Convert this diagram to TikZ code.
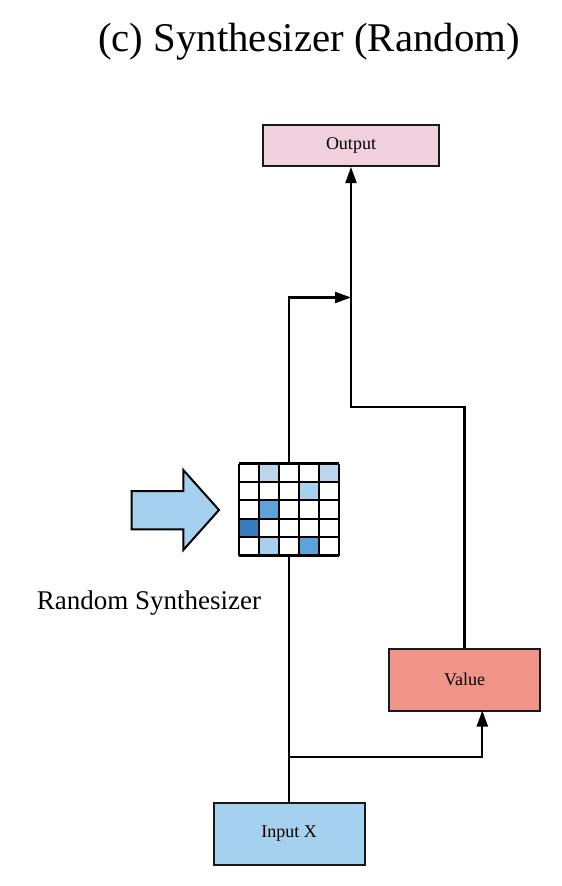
\documentclass[tikz,border=0pt]{standalone}
\usepackage{fontspec}
\setmainfont{Liberation Serif}
\usetikzlibrary{arrows.meta}
\definecolor{outpink}{HTML}{F2D1DE}
\definecolor{valred}{HTML}{F0948A}
\definecolor{inblue}{HTML}{A6D1EE}
\definecolor{gl1}{HTML}{BBD6EC}
\definecolor{gl2}{HTML}{A6D0EE}
\definecolor{gm}{HTML}{5BA3D8}
\definecolor{gd}{HTML}{3A7DBE}
\tikzset{
  box/.style={draw=black!90, line width=2pt, inner sep=0pt, font=\fontsize{18}{21}\selectfont},
  conn/.style={draw=black, line width=2.2pt},
  arr/.style={conn, -{Triangle[length=16pt,width=11pt]}},
}
\begin{document}
\begin{tikzpicture}[x=1pt,y=-1pt]
\useasboundingbox (0,0) rectangle (562,886);
% title
\node (title) at (309,42) {\fontsize{40.8}{46}\selectfont (c) Synthesizer (Random)};
% boxes
\node[box, fill=outpink, minimum width=176pt, minimum height=41pt] (out) at (351,145.5) {Output};
\node[box, fill=valred, minimum width=151pt, minimum height=62pt] (val) at (464.5,679.5) {Value};
\node[box, fill=inblue, minimum width=151pt, minimum height=62pt] (inp) at (289,833.5) {Input X};
% grid
\node[minimum width=100pt, minimum height=92pt, inner sep=0pt] (grid) at (289,509.5) {};
\begin{scope}[shift={(239,463.5)}]
  \def\cw{20}\def\ch{18.4}
  \fill[gl1] (1*\cw,0*\ch) rectangle ++(\cw,\ch);
  \fill[gl1] (4*\cw,0*\ch) rectangle ++(\cw,\ch);
  \fill[gl2] (3*\cw,1*\ch) rectangle ++(\cw,\ch);
  \fill[gm]  (1*\cw,2*\ch) rectangle ++(\cw,\ch);
  \fill[gd]  (0*\cw,3*\ch) rectangle ++(\cw,\ch);
  \fill[gl2] (1*\cw,4*\ch) rectangle ++(\cw,\ch);
  \fill[gm]  (3*\cw,4*\ch) rectangle ++(\cw,\ch);
  \foreach \i in {0,...,5} {
    \draw[line width=2.2pt] (\i*\cw,0) -- (\i*\cw,5*\ch);
    \draw[line width=2.2pt] (0,\i*\ch) -- (5*\cw,\i*\ch);
  }
\end{scope}
% big arrow
\filldraw[fill=inblue, draw=black, line width=2pt, line join=miter]
  (131.7,491) -- (183.3,491) -- (183.3,470) -- (219,510) -- (183.3,550) -- (183.3,529.3) -- (131.7,529.3) -- cycle;
\node (lbl) at (149,603) {\fontsize{27}{32}\selectfont Random Synthesizer};
% connectors
\coordinate (j1) at (351,297.5);
\coordinate (br) at (289,757);
\draw[arr] (grid.north) |- (j1);
\draw[arr] (val.north) |- (351,407.3) -- (out.south);
\draw[conn] (inp.north) -- (grid.south);
\draw[arr] (br) -| (482.3,710.5);
\end{tikzpicture}
\end{document}
